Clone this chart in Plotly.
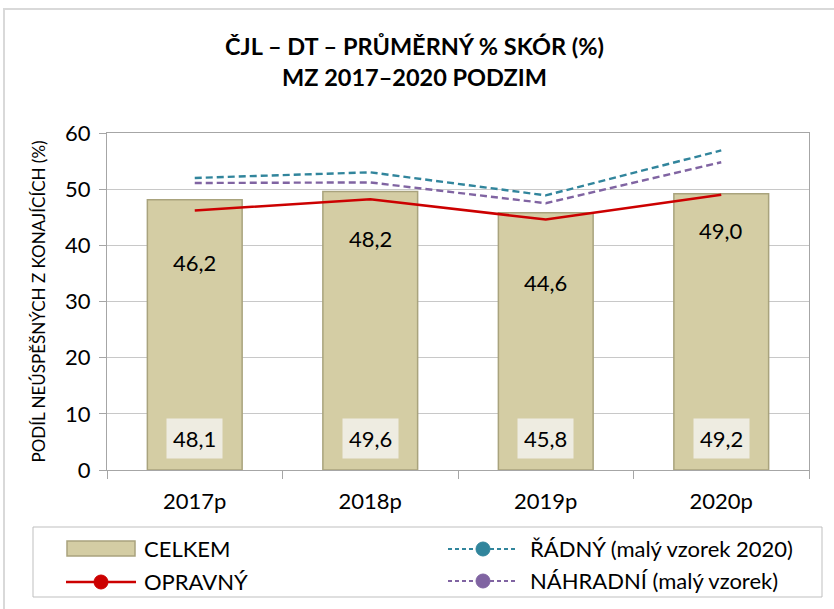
import plotly.graph_objects as go

categories = ["2017p", "2018p", "2019p", "2020p"]
celkem = [48.1, 49.6, 45.8, 49.2]
opravny = [46.2, 48.2, 44.6, 49.0]
radny = [52.0, 53.0, 48.9, 56.9]
nahradni = [51.1, 51.2, 47.5, 54.8]

def fmt(v):
    return f"{v:.1f}".replace(".", ",")

FONT = "Lato, 'Open Sans', sans-serif"
BAR_FILL = "#D4CDA4"
BAR_LINE = "#A9A37D"
C_RADNY = "#31859C"
C_NAHR = "#8064A2"
C_OPR = "#CC0000"
opr_label_shift = [-52, -39, -63, -36]

W, H = 834, 609
L, R, T, B = 107, 25, 133, 139
PW, PH = W - L - R, H - T - B

def px(x):
    return (x - L) / PW

def py(y):
    return (H - B - y) / PH

fig = go.Figure()
fig.add_trace(go.Bar(x=categories, y=celkem, name="CELKEM", width=0.54,
                     marker=dict(color=BAR_FILL, line=dict(color=BAR_LINE, width=1.5))))
fig.add_trace(go.Scatter(x=categories, y=radny, mode="lines", name="ŘÁDNÝ (malý vzorek 2020)",
                         line=dict(color=C_RADNY, width=2.4, dash="7px,4px")))
fig.add_trace(go.Scatter(x=categories, y=nahradni, mode="lines", name="NÁHRADNÍ (malý vzorek)",
                         line=dict(color=C_NAHR, width=2.4, dash="7px,4px")))
fig.add_trace(go.Scatter(x=categories, y=opravny, mode="lines", name="OPRAVNÝ",
                         line=dict(color=C_OPR, width=2.5)))

for c, v, s in zip(categories, opravny, opr_label_shift):
    fig.add_annotation(x=c, y=v, text=fmt(v), showarrow=False, yshift=s,
                       font=dict(family=FONT, size=22, color="#000000"))
for c, v in zip(categories, celkem):
    fig.add_annotation(x=c, y=0, text=fmt(v), showarrow=False, yanchor="bottom", yshift=11,
                       bgcolor="#EEECE1", borderpad=6,
                       font=dict(family=FONT, size=22, color="#000000"))

# chart outer border
fig.add_shape(type="rect", xref="paper", yref="paper", x0=px(4), x1=px(850), y0=py(630), y1=py(9),
              line=dict(color="#D9D9D9", width=2), fillcolor="rgba(0,0,0,0)", layer="below")

# manual legend (box, swatches, labels)
fig.add_shape(type="rect", xref="paper", yref="paper", x0=px(33), x1=px(822), y0=py(597), y1=py(527),
              line=dict(color="#BFBFBF", width=1), fillcolor="white")
fig.add_shape(type="rect", xref="paper", yref="paper", x0=px(67), x1=px(135), y0=py(556), y1=py(541),
              line=dict(color=BAR_LINE, width=1.5), fillcolor=BAR_FILL)
legend_lines = [
    ("OPRAVNÝ", C_OPR, "solid", 2.5, 66, 582),
    ("ŘÁDNÝ (malý vzorek 2020)", C_RADNY, "4px,3px", 2, 448, 549),
    ("NÁHRADNÍ (malý vzorek)", C_NAHR, "4px,3px", 2, 448, 581),
]
for name, col, dash, wdt, x0, yy in legend_lines:
    fig.add_shape(type="line", xref="paper", yref="paper", x0=px(x0), x1=px(x0 + 70),
                  y0=py(yy), y1=py(yy), line=dict(color=col, width=wdt, dash=dash))
    fig.add_shape(type="circle", xref="paper", yref="paper", x0=px(x0 + 28), x1=px(x0 + 42),
                  y0=py(yy + 7), y1=py(yy - 7), line=dict(color=col, width=1), fillcolor=col)
legend_texts = [("CELKEM", 142, 548), ("OPRAVNÝ", 142, 581),
                ("ŘÁDNÝ (malý vzorek 2020)", 528, 548), ("NÁHRADNÍ (malý vzorek)", 528, 580)]
for t, x0, yy in legend_texts:
    fig.add_annotation(xref="paper", yref="paper", x=px(x0), y=py(yy), text=t, showarrow=False,
                       xanchor="left", yanchor="middle",
                       font=dict(family=FONT, size=22, color="#000000"))

fig.update_layout(
    width=W, height=H,
    margin=dict(l=L, r=R, t=T, b=B),
    paper_bgcolor="white", plot_bgcolor="white",
    font=dict(family=FONT, color="#000000"),
    showlegend=False,
    title=dict(text="<b>ČJL – DT – PRŮMĚRNÝ % SKÓR (%)<br>MZ 2017–2020 PODZIM</b>",
               x=0.497, xanchor="center", y=1 - 55 / H, yanchor="top",
               font=dict(family=FONT, size=23.5, color="#000000")),
    xaxis=dict(type="category", showgrid=False, ticks="outside", tickson="boundaries",
               ticklen=8, tickcolor="#A6A6A6", linecolor="#A6A6A6", linewidth=1, mirror=True,
               ticklabelstandoff=12,
               tickfont=dict(family=FONT, size=22, color="#000000")),
    yaxis=dict(range=[0, 60], dtick=10, showgrid=True, gridcolor="#C8C8C8", gridwidth=1,
               ticks="outside", ticklen=7, tickcolor="#A6A6A6", linecolor="#A6A6A6",
               mirror=True, zeroline=False, ticklabelstandoff=4,
               tickfont=dict(family=FONT, size=22, color="#000000"),
               title=dict(text="PODÍL NEÚSPĚŠNÝCH Z KONAJÍCÍCH (%)", standoff=15,
                          font=dict(family=FONT, size=17, color="#000000"))),
)

fig.write_html("out.html", config={"displayModeBar": False},
               post_script="document.body.style.margin='0px';")
